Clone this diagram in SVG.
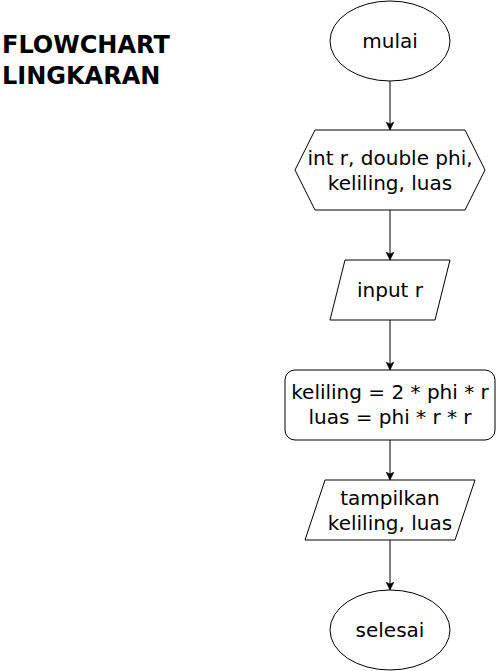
<svg xmlns="http://www.w3.org/2000/svg" width="496" height="671" viewBox="0 0 496 671">
<style>
.shape{fill:#ffffff;stroke:#000000;stroke-width:1}
.lbl{font-family:"DejaVu Sans",Verdana,sans-serif;font-size:20px;fill:#000000;text-anchor:middle}
.title{font-family:"DejaVu Sans",Verdana,sans-serif;font-size:24px;font-weight:bold;fill:#000000}
.edge{fill:none;stroke:#000000;stroke-width:1}
</style>
<defs>
<marker id="arrow" markerUnits="userSpaceOnUse" viewBox="0 0 8 8" markerWidth="8" markerHeight="8" refX="8" refY="4" orient="auto">
<path d="M0,0 L8,4 L0,8 L2,4 Z" fill="#000000" stroke="#000000" stroke-width="0.5"/>
</marker>
</defs>
<rect width="496" height="671" fill="#ffffff"/>
<g id="title">
<text class="title" x="2" y="53">FLOWCHART</text>
<text class="title" x="2" y="84">LINGKARAN</text>
</g>
<g id="connectors">
<line class="edge" x1="390" y1="81" x2="390" y2="130" marker-end="url(#arrow)"/>
<line class="edge" x1="390" y1="210" x2="390" y2="260" marker-end="url(#arrow)"/>
<line class="edge" x1="390" y1="320" x2="390" y2="370" marker-end="url(#arrow)"/>
<line class="edge" x1="390" y1="440" x2="390" y2="480" marker-end="url(#arrow)"/>
<line class="edge" x1="390" y1="540" x2="390" y2="590" marker-end="url(#arrow)"/>
</g>
<g id="mulai">
<ellipse class="shape" cx="390" cy="41" rx="60" ry="40"/>
<text class="lbl" x="390" y="48">mulai</text>
</g>
<g id="deklarasi">
<polygon class="shape" points="315,130 465,130 485,170 465,210 315,210 295,170"/>
<text class="lbl" x="390" y="165">int r, double phi,</text>
<text class="lbl" x="390" y="190">keliling, luas</text>
</g>
<g id="input">
<polygon class="shape" points="345,260 450,260 435,320 330,320"/>
<text class="lbl" x="390" y="297">input r</text>
</g>
<g id="proses">
<rect class="shape" x="285" y="370" width="210" height="70" rx="10" ry="10"/>
<text class="lbl" x="390" y="399">keliling = 2 * phi * r</text>
<text class="lbl" x="390" y="424">luas = phi * r * r</text>
</g>
<g id="output">
<polygon class="shape" points="325,480 475,480 455,540 305,540"/>
<text class="lbl" x="390" y="505">tampilkan</text>
<text class="lbl" x="390" y="530">keliling, luas</text>
</g>
<g id="selesai">
<ellipse class="shape" cx="390" cy="630" rx="60" ry="40"/>
<text class="lbl" x="390" y="637">selesai</text>
</g>
</svg>
